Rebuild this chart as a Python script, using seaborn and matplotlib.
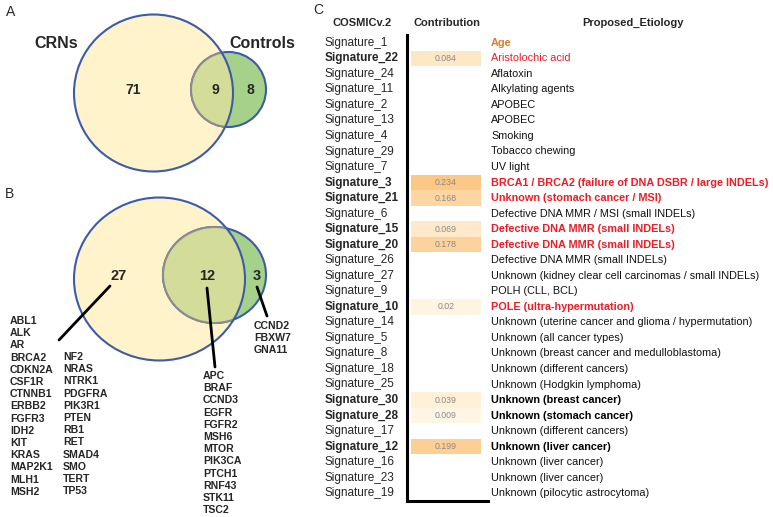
import numpy as np
import pandas as pd
import matplotlib.pyplot as plt
import seaborn as sns
from matplotlib.patches import Ellipse
from matplotlib.colors import LinearSegmentedColormap
from matplotlib.transforms import blended_transform_factory

# ---- panel A: overlap of signatures ----
venn_a_sets = ['CRNs', 'Controls']
venn_a_counts = [71, 9, 8]          # CRN only, shared, control only

# ---- panel B: overlap of mutated genes ----
venn_b_counts = [27, 12, 3]
genes_crn_a = ['ABL1', 'ALK', 'AR', 'BRCA2', 'CDKN2A', 'CSF1R', 'CTNNB1', 'ERBB2',
               'FGFR3', 'IDH2', 'KIT', 'KRAS', 'MAP2K1', 'MLH1', 'MSH2']
genes_crn_b = ['NF2', 'NRAS', 'NTRK1', 'PDGFRA', 'PIK3R1', 'PTEN', 'RB1', 'RET',
               'SMAD4', 'SMO', 'TERT', 'TP53']
genes_shared = ['APC', 'BRAF', 'CCND3', 'EGFR', 'FGFR2', 'MSH6', 'MTOR', 'PIK3CA',
                'PTCH1', 'RNF43', 'STK11', 'TSC2']
genes_ctrl = ['CCND2', 'FBXW7', 'GNA11']

# ---- panel C: COSMIC v2 signature contributions ----
signatures = ['Signature_1', 'Signature_22', 'Signature_24', 'Signature_11', 'Signature_2',
              'Signature_13', 'Signature_4', 'Signature_29', 'Signature_7', 'Signature_3',
              'Signature_21', 'Signature_6', 'Signature_15', 'Signature_20', 'Signature_26',
              'Signature_27', 'Signature_9', 'Signature_10', 'Signature_14', 'Signature_5',
              'Signature_8', 'Signature_18', 'Signature_25', 'Signature_30', 'Signature_28',
              'Signature_17', 'Signature_12', 'Signature_16', 'Signature_23', 'Signature_19']
contribution = [np.nan, 0.084, np.nan, np.nan, np.nan, np.nan, np.nan, np.nan, np.nan, 0.234,
                0.168, np.nan, 0.069, 0.178, np.nan, np.nan, np.nan, 0.02, np.nan, np.nan,
                np.nan, np.nan, np.nan, 0.039, 0.009, np.nan, 0.199, np.nan, np.nan, np.nan]
etiology = ['Age', 'Aristolochic acid', 'Aflatoxin', 'Alkylating agents', 'APOBEC', 'APOBEC',
            'Smoking', 'Tobacco chewing', 'UV light',
            'BRCA1 / BRCA2 (failure of DNA DSBR / large INDELs)',
            'Unknown (stomach cancer / MSI)', 'Defective DNA MMR / MSI (small INDELs)',
            'Defective DNA MMR (small INDELs)', 'Defective DNA MMR (small INDELs)',
            'Defective DNA MMR (small INDELs)',
            'Unknown (kidney clear cell carcinomas / small INDELs)', 'POLH (CLL, BCL)',
            'POLE (ultra-hypermutation)',
            'Unknown (uterine cancer and glioma / hypermutation)', 'Unknown (all cancer types)',
            'Unknown (breast cancer and medulloblastoma)', 'Unknown (different cancers)',
            'Unknown (Hodgkin lymphoma)', 'Unknown (breast cancer)', 'Unknown (stomach cancer)',
            'Unknown (different cancers)', 'Unknown (liver cancer)', 'Unknown (liver cancer)',
            'Unknown (liver cancer)', 'Unknown (pilocytic astrocytoma)']
# how each etiology label is highlighted
etiology_style = ['age', 'red', '', '', '', '', '', '', '', 'redbold',
                  'redbold', '', 'redbold', 'redbold', '', '', '', 'redbold', '', '',
                  '', '', '', 'bold', 'bold', '', 'bold', '', '', '']

sns.set_style('white')
plt.rcParams['font.family'] = ['Liberation Sans', 'DejaVu Sans']

W, H = 773, 517
fig = plt.figure(figsize=(W / 100, H / 100), dpi=100)

# overlay axes in pixel coordinates for venns and labels
bg = fig.add_axes([0, 0, 1, 1])
bg.set_xlim(0, W)
bg.set_ylim(H, 0)
bg.axis('off')

yellow = '#fef3cb'
green = '#a6d18b'
mix = '#d3dc98'
blue = '#3d5ba6'


def venn(big_xy, big_wh, small_xy, small_wh):
    big = Ellipse(big_xy, *big_wh, facecolor=yellow, edgecolor='none', zorder=1)
    bg.add_patch(big)
    bg.add_patch(Ellipse(small_xy, *small_wh, facecolor=green, edgecolor=blue, lw=1.5, zorder=2))
    inter = Ellipse(small_xy, *small_wh, facecolor=mix, edgecolor='#8c8c8c', lw=1.5, zorder=3)
    bg.add_patch(inter)
    inter.set_clip_path(big)
    bg.add_patch(Ellipse(big_xy, *big_wh, facecolor='none', edgecolor=blue, lw=1.5, zorder=4))


# panel A
bg.text(11, 12, 'A', fontsize=10, ha='center', va='center')
venn((153.5, 93), (159, 157), (228.5, 89.5), (75, 75))
bg.text(56, 43, venn_a_sets[0], fontsize=11.5, fontweight='bold', ha='center', va='center', zorder=5)
bg.text(262, 43, venn_a_sets[1], fontsize=11.5, fontweight='bold', ha='center', va='center', zorder=5)
for x, n in zip([133, 215, 250], venn_a_counts):
    bg.text(x, 90, str(n), fontsize=10, fontweight='bold', ha='center', va='center', zorder=5)

# panel B
bg.text(10, 194, 'B', fontsize=10, ha='center', va='center')
venn((159.5, 279), (171, 163), (214.5, 275), (103, 96))
for x, n in zip([119, 207, 257], venn_b_counts):
    bg.text(x, 276, str(n), fontsize=10.5, fontweight='bold', ha='center', va='center', zorder=5)
for (x0, y0), (x1, y1) in [((110, 286), (59, 340)), ((207, 288), (215, 367)), ((257, 287), (267, 316))]:
    bg.plot([x0, x1], [y0, y1], color='black', lw=2, zorder=5)

step = 12.2
for genes, x, y0 in [(genes_crn_a, 10, 321), (genes_crn_b, 63, 357),
                     (genes_shared, 203, 376), (genes_ctrl, 254, 326)]:
    for i, g in enumerate(genes):
        bg.text(x, y0 + i * step, g, fontsize=7.6, fontweight='bold', ha='left', va='center')

# panel C: heatmap column
bg.text(318, 10, 'C', fontsize=10, ha='center', va='center')
bg.text(362, 23, 'COSMICv.2', fontsize=8, fontweight='bold', ha='center', va='center')
bg.text(447, 23, 'Contribution', fontsize=8, fontweight='bold', ha='center', va='center')
bg.text(633, 23, 'Proposed_Etiology', fontsize=8, fontweight='bold', ha='center', va='center')

df = pd.DataFrame({'Contribution': contribution}, index=signatures)
cmap = LinearSegmentedColormap.from_list('contrib', ['#fff8e8', '#fdc886'])

ax = fig.add_axes([407 / W, (H - 501) / H, 81 / W, 466 / H])
sns.heatmap(df, ax=ax, cmap=cmap, vmin=0, vmax=0.234, cbar=False, annot=True, fmt='g',
            annot_kws={'fontsize': 6.3, 'color': '#8a8a8a'}, xticklabels=False)
ax.set_xlim(-4 / 70, 1 + 7 / 70)
ax.set_ylim(len(signatures), 0)
ax.set_ylabel('')
for side in ['left', 'bottom']:
    ax.spines[side].set_visible(True)
    ax.spines[side].set_linewidth(2.2)
    ax.spines[side].set_color('black')

ax.set_yticks(np.arange(len(signatures)) + 0.5)
ax.set_yticklabels(signatures, rotation=0, ha='left', fontsize=8.5)
ax.tick_params(axis='y', length=2.5, width=0.8, color='#555555', pad=57)
for lab, v in zip(ax.get_yticklabels(), contribution):
    if not np.isnan(v):
        lab.set_fontweight('bold')

colors = {'age': '#dd7a2a', 'red': '#ee1c25', 'redbold': '#ee1c25', 'bold': 'black', '': '#111111'}
tr = blended_transform_factory(ax.transAxes, ax.transData)
for i, (txt, st) in enumerate(zip(etiology, etiology_style)):
    is_bold = st in ('age', 'redbold', 'bold')
    ax.text(84 / 81, i + 0.5, txt, transform=tr, fontsize=7.8,
            ha='left', va='center', color=colors[st],
            fontweight='bold' if is_bold else 'normal', clip_on=False)

fig.savefig('out.png', dpi=100)
